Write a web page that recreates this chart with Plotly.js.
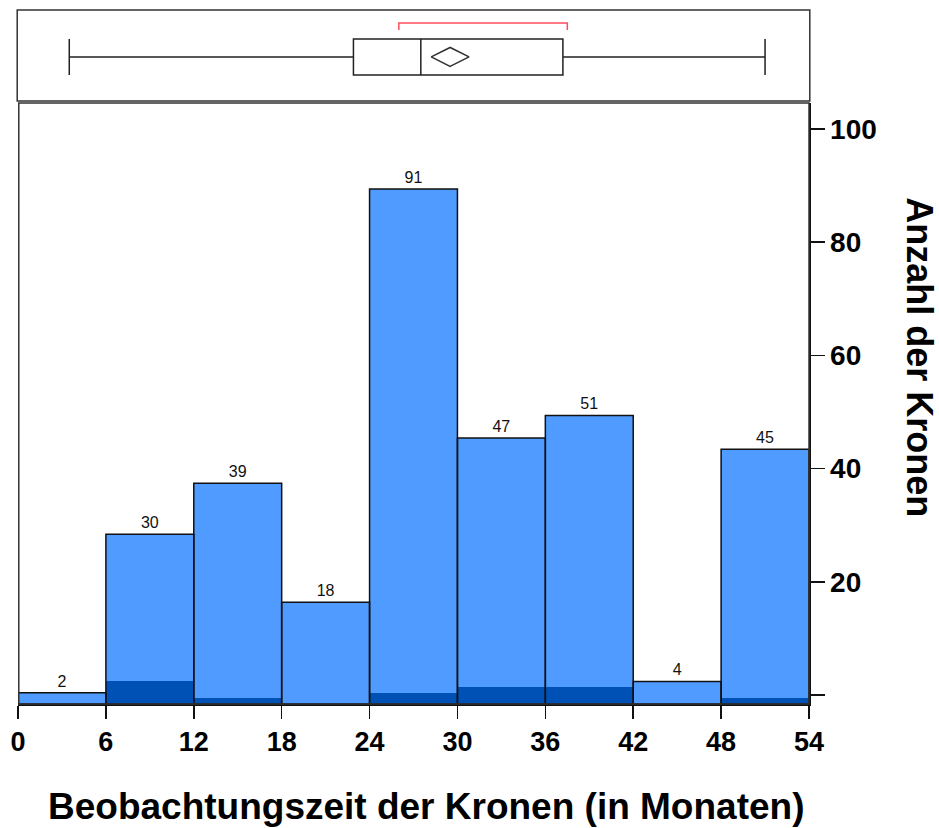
<!DOCTYPE html>
<html>
<head>
<meta charset="utf-8">
<script src="https://cdn.plot.ly/plotly-3.0.1.min.js"></script>
<style>
  html, body { margin: 0; padding: 0; background: #fff; }
  #chart { width: 939px; height: 828px; }
</style>
</head>
<body>
<div id="chart"></div>
<script>
// Histogram bins (months): left edge of every 6-month bin
const binStarts = [0, 6, 12, 18, 24, 30, 36, 42, 48];
// Number of crowns per bin
const counts = [2, 30, 39, 18, 91, 47, 51, 4, 45];
// Subgroup count per bin (dark portion at the bottom of each bar)
const subCounts = [0, 4, 1, 0, 2, 3, 3, 0, 1];

// Axis ticks
const xTicks = [0, 6, 12, 18, 24, 30, 36, 42, 48, 54];
const yTicks = [0, 20, 40, 60, 80, 100];
const yTickText = ['', '20', '40', '60', '80', '100'];

// Box plot summary of observation time
const boxMin = [3.5];
const boxQ1 = [22.9];
const boxMedian = [27.5];
const boxQ3 = [37.2];
const boxMax = [51.0];
const boxMean = [29.5];
// Interval bracket drawn above the box
const bracket = [26.0, 37.5];

const FONT = 'Liberation Sans, Arial, Helvetica, sans-serif';
const LIGHT = '#4F9BFF';
const DARK = '#0051B5';
const BAR_BASE = -1.6;
const binWidth = 6;

const baseArr = binStarts.map(() => BAR_BASE);
const widthArr = binStarts.map(() => binWidth);

const traces = [
  {
    type: 'bar', x: binStarts, y: counts, base: baseArr, width: widthArr, offset: 0,
    marker: { color: LIGHT, line: { width: 0 } },
    hoverinfo: 'skip', showlegend: false
  },
  {
    type: 'bar', x: binStarts, y: subCounts, base: baseArr, width: widthArr, offset: 0,
    marker: { color: DARK, line: { width: 0 } },
    hoverinfo: 'skip', showlegend: false
  },
  {
    type: 'bar', x: binStarts, y: counts, base: baseArr, width: widthArr, offset: 0,
    marker: { color: 'rgba(0,0,0,0)', line: { color: '#111', width: 1.5 } },
    text: counts.map(String), textposition: 'outside', cliponaxis: false,
    textfont: { family: FONT, size: 16, color: '#111' },
    hoverinfo: 'skip', showlegend: false
  },
  // Box plot panel
  {
    type: 'box', orientation: 'h', xaxis: 'x', yaxis: 'y2',
    y: [0.484], q1: boxQ1, median: boxMedian, q3: boxQ3,
    lowerfence: boxMin, upperfence: boxMax,
    width: 0.396, whiskerwidth: 1,
    fillcolor: '#ffffff', line: { color: '#222', width: 1.5 },
    hoverinfo: 'skip', showlegend: false
  },
  {
    type: 'scatter', mode: 'markers', xaxis: 'x', yaxis: 'y2',
    x: boxMean, y: [0.484],
    marker: { symbol: 'diamond-wide-open', size: 27, color: '#333', line: { width: 1.5 } },
    hoverinfo: 'skip', showlegend: false
  },
  {
    type: 'scatter', mode: 'lines', xaxis: 'x', yaxis: 'y2',
    x: [bracket[0], bracket[0], bracket[1], bracket[1]],
    y: [0.78, 0.857, 0.857, 0.78],
    line: { color: '#FF4D5E', width: 1.5 },
    hoverinfo: 'skip', showlegend: false
  }
];

const layout = {
  width: 939, height: 828,
  margin: { l: 18, r: 130, t: 10, b: 124 },
  paper_bgcolor: '#fff', plot_bgcolor: '#fff',
  barmode: 'overlay', bargap: 0,
  font: { family: FONT, color: '#000' },
  xaxis: {
    range: [0, 54], tickvals: xTicks, ticktext: xTicks.map(String),
    ticks: 'outside', ticklen: 13, tickwidth: 1.5, tickcolor: '#111',
    showline: true, linecolor: '#111', linewidth: 1.5,
    showgrid: false, zeroline: false,
    tickfont: { family: FONT, size: 27, weight: 'bold', color: '#000' },
    anchor: 'y', fixedrange: true
  },
  yaxis: {
    domain: [0, 0.866], range: [-1.59, 104.6], side: 'right',
    tickvals: yTicks, ticktext: yTickText,
    ticks: 'outside', ticklen: 14, tickwidth: 1.5, tickcolor: '#111',
    showline: true, linecolor: '#111', linewidth: 1.5,
    showgrid: false, zeroline: false,
    tickfont: { family: FONT, size: 28, weight: 'bold', color: '#000' },
    anchor: 'x', fixedrange: true
  },
  yaxis2: {
    domain: [0.869, 1], range: [0, 1],
    visible: false, fixedrange: true, anchor: 'x'
  },
  shapes: [
    { type: 'rect', xref: 'paper', yref: 'paper', x0: -0.001, x1: 1.001, y0: 0.869, y1: 1,
      line: { color: '#333', width: 1.5 }, fillcolor: 'rgba(0,0,0,0)' },
    { type: 'rect', xref: 'paper', yref: 'paper', x0: 0.001, x1: 1, y0: 0, y1: 0.866,
      line: { color: '#333', width: 1.5 }, fillcolor: 'rgba(0,0,0,0)' }
  ],
  annotations: [
    { text: 'Beobachtungszeit der Kronen (in Monaten)', xref: 'paper', yref: 'paper',
      x: 0.516, y: -0.148, xanchor: 'center', yanchor: 'middle', showarrow: false,
      font: { family: FONT, size: 37, weight: 'bold', color: '#000' } },
    { text: 'Anzahl der Kronen', xref: 'paper', yref: 'paper',
      x: 1.14, y: 0.5, xanchor: 'center', yanchor: 'middle', showarrow: false, textangle: 90,
      font: { family: FONT, size: 36, weight: 'bold', color: '#000' } }
  ]
};

Plotly.newPlot('chart', traces, layout, { staticPlot: true, displayModeBar: false });
</script>
</body>
</html>
